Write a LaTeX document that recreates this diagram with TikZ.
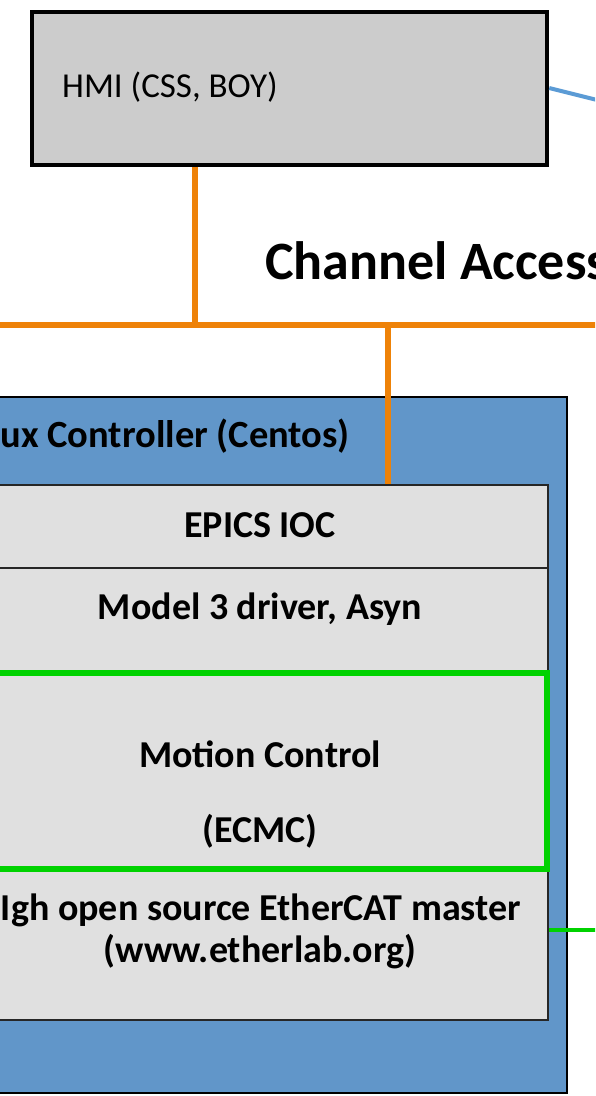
\documentclass[tikz,border=0pt]{standalone}
\usepackage{fontspec}
\setmainfont{Carlito}
\definecolor{hmigray}{HTML}{CCCCCC}
\definecolor{boxgray}{HTML}{E0E0E0}
\definecolor{ctrlblue}{HTML}{6196C9}
\definecolor{linkblue}{HTML}{5B9BD5}
\definecolor{caorange}{HTML}{EE8208}
\definecolor{ecgreen}{HTML}{00D200}
\tikzset{
  layer/.style={draw=black!85, line width=2.5pt, fill=boxgray, minimum width=576pt, inner sep=0pt},
  lbl/.style={font=\fontsize{38}{46}\selectfont\bfseries, anchor=base, inner sep=0pt},
  orangeline/.style={draw=caorange, line width=6pt},
}
\begin{document}
\begin{tikzpicture}[x=1pt,y=-1pt]
\clip (0,0) rectangle (595,1096);
\fill[white] (0,0) rectangle (595,1096);
% HMI
\node[draw=black, line width=4.5pt, fill=hmigray, minimum width=515pt, minimum height=153pt, inner sep=0pt] (hmi) at (289.5,88.5) {};
\node[font=\fontsize{35}{42}\selectfont, anchor=base west, inner sep=0pt] (hmitxt) at (62,97) {HMI (CSS, BOY)};
\coordinate (bluend) at (605,102);
\draw[linkblue, line width=4pt] (hmi.east |- 0,88) -- (bluend);
% Channel Access bus
\coordinate (busL) at (-10,325);
\coordinate (busR) at (605,325);
\coordinate (busA) at (195,325);
\coordinate (busB) at (388,325);
\draw[orangeline] (busL) -- (busR);
\draw[orangeline] (hmi.south -| busA) -- (busA);
\node[font=\fontsize{54}{62}\selectfont\bfseries, anchor=base west, inner sep=0pt] (ca) at (265,279) {Channel Access};
% Linux controller
\node[draw=black, line width=1.5pt, fill=ctrlblue, minimum width=640pt, minimum height=696pt, inner sep=0pt] (ctrl) at (247,745) {};
\node[font=\fontsize{38.5}{46}\selectfont\bfseries, anchor=base east, inner sep=0pt] (ctrltxt) at (350,447) {Linux Controller (Centos)};
% layers
\node[layer, minimum height=83pt] (epics) at (260,526.5) {};
\node[layer, minimum height=104pt] (model) at (260,620) {};
\node[layer, minimum height=151pt] (igh) at (260,944.5) {};
\node[draw=ecgreen, line width=6pt, fill=boxgray, minimum width=577pt, minimum height=196pt, inner sep=0pt] (motion) at (258.5,771) {};
\draw[orangeline] (busB) -- (epics.north -| busB);
\node[lbl] (t1) at (260,537) {EPICS IOC};
\node[lbl] (t2) at (260,619) {Model 3 driver, Asyn};
\node[lbl] (t3) at (260,767) {Motion Control};
\node[lbl] (t4) at (260,842) {(ECMC)};
\node[lbl] (t5) at (261,920) {Igh open source EtherCAT master};
\node[lbl] (t6) at (260,962) {(www.etherlab.org)};
\coordinate (greenend) at (605,930);
\draw[ecgreen, line width=4pt] (igh.east |- 0,930) -- (greenend);
\end{tikzpicture}
\end{document}
